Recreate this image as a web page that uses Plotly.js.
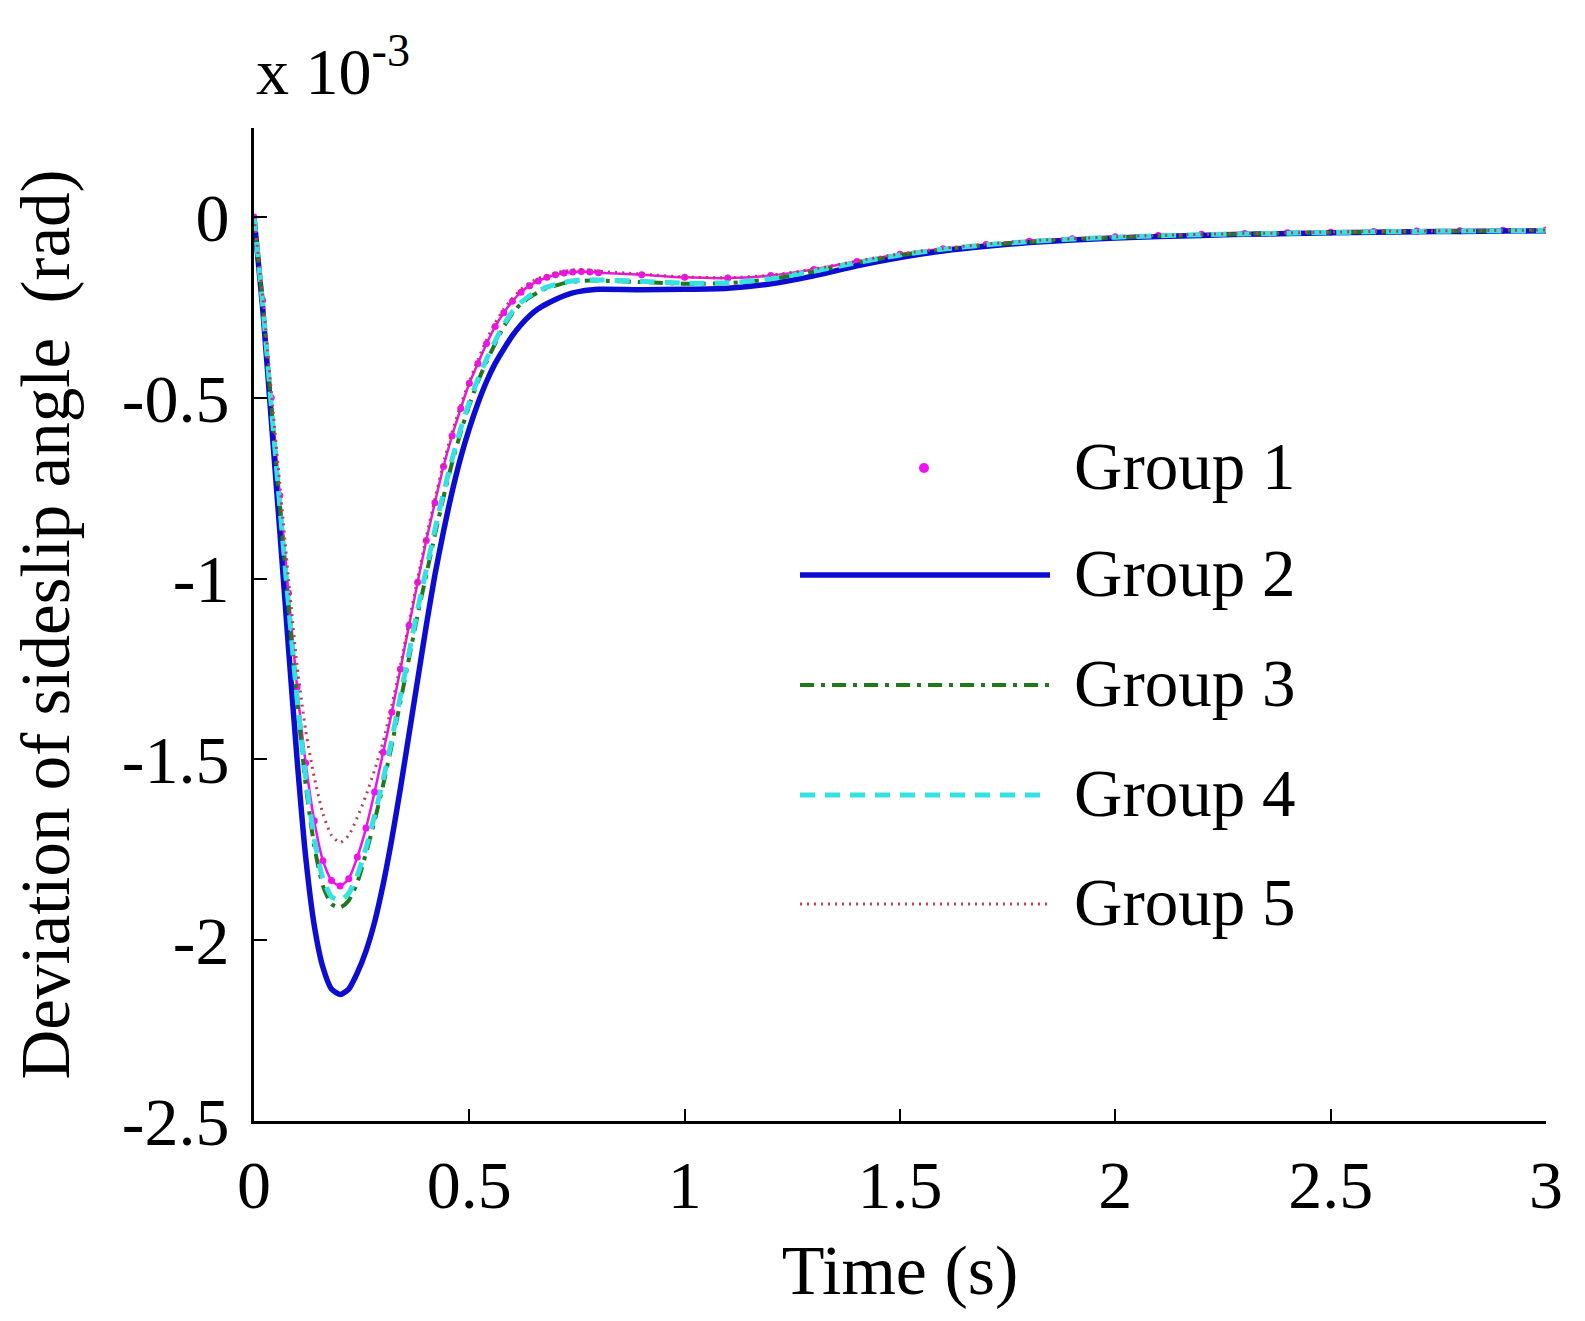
<!DOCTYPE html>
<html>
<head>
<meta charset="utf-8">
<script src="https://cdn.plot.ly/plotly-3.0.1.min.js"></script>
<style>
  body { margin: 0; background: #fff; }
</style>
</head>
<body>
<div id="chart" style="width:1585px;height:1321px"></div>
<script>
// time (s) and sideslip deviation (x 1e-3 rad)
const time = [0, 0.02, 0.04, 0.06, 0.08, 0.10, 0.12, 0.14, 0.16, 0.18, 0.20, 0.22, 0.24, 0.26, 0.28, 0.30,
  0.32, 0.34, 0.36, 0.38, 0.40, 0.42, 0.44, 0.46, 0.48, 0.50, 0.52, 0.54, 0.56, 0.58, 0.60, 0.62, 0.64,
  0.66, 0.68, 0.70, 0.72, 0.74, 0.76, 0.78, 0.80,
  0.9, 1.0, 1.1, 1.2, 1.3, 1.4, 1.5, 1.6, 1.7, 1.8, 1.9, 2.0, 2.1, 2.2, 2.3, 2.4, 2.5, 2.6, 2.7, 2.8, 2.9, 3.0];

const group1 = [0, -0.23, -0.50, -0.77, -1.04, -1.30, -1.51, -1.67, -1.78, -1.835, -1.85, -1.83, -1.77, -1.69, -1.59, -1.48,
  -1.37, -1.25, -1.13, -1.01, -0.895, -0.79, -0.69, -0.605, -0.53, -0.46, -0.405, -0.35, -0.303, -0.265, -0.233, -0.208, -0.19,
  -0.177, -0.167, -0.16, -0.155, -0.152, -0.151, -0.152, -0.154,
  -0.16, -0.167, -0.169, -0.162, -0.145, -0.123, -0.103, -0.088, -0.076, -0.067, -0.06, -0.055, -0.051, -0.048, -0.046, -0.044, -0.042, -0.04, -0.039, -0.038, -0.037, -0.036];

const group2 = [0, -0.25, -0.56, -0.87, -1.19, -1.50, -1.77, -1.96, -2.075, -2.135, -2.15, -2.135, -2.09, -2.03, -1.95, -1.845,
  -1.72, -1.58, -1.43, -1.28, -1.13, -0.99, -0.87, -0.76, -0.665, -0.585, -0.515, -0.455, -0.405, -0.365, -0.328, -0.298, -0.273,
  -0.254, -0.24, -0.228, -0.218, -0.21, -0.205, -0.202, -0.20,
  -0.201, -0.2, -0.197, -0.185, -0.163, -0.135, -0.112, -0.094, -0.081, -0.071, -0.064, -0.058, -0.054, -0.051, -0.048, -0.046, -0.044, -0.042, -0.041, -0.04, -0.039, -0.038];

const group3 = [0, -0.24, -0.52, -0.80, -1.08, -1.34, -1.57, -1.74, -1.85, -1.90, -1.91, -1.89, -1.84, -1.76, -1.67, -1.57,
  -1.46, -1.34, -1.22, -1.10, -0.99, -0.88, -0.775, -0.68, -0.595, -0.52, -0.455, -0.40, -0.35, -0.303, -0.267, -0.24, -0.222,
  -0.208, -0.197, -0.19, -0.183, -0.179, -0.177, -0.176, -0.176,
  -0.18, -0.185, -0.183, -0.172, -0.151, -0.127, -0.106, -0.09, -0.078, -0.069, -0.062, -0.057, -0.053, -0.05, -0.047, -0.045, -0.043, -0.041, -0.04, -0.039, -0.038, -0.037];

const group4 = [0, -0.24, -0.52, -0.80, -1.07, -1.33, -1.55, -1.72, -1.83, -1.88, -1.89, -1.87, -1.82, -1.745, -1.655, -1.555,
  -1.445, -1.325, -1.205, -1.085, -0.975, -0.865, -0.763, -0.67, -0.585, -0.512, -0.448, -0.393, -0.343, -0.297, -0.262, -0.236, -0.218,
  -0.204, -0.194, -0.187, -0.181, -0.177, -0.175, -0.174, -0.174,
  -0.178, -0.183, -0.182, -0.171, -0.15, -0.126, -0.105, -0.089, -0.077, -0.068, -0.061, -0.056, -0.052, -0.049, -0.047, -0.045, -0.043, -0.041, -0.04, -0.039, -0.038, -0.037];

const group5 = [0, -0.22, -0.48, -0.74, -1.0, -1.24, -1.42, -1.55, -1.65, -1.71, -1.73, -1.71, -1.66, -1.60, -1.53, -1.45,
  -1.35, -1.24, -1.12, -1.0, -0.885, -0.78, -0.68, -0.595, -0.52, -0.455, -0.395, -0.34, -0.293, -0.255, -0.225, -0.20, -0.182,
  -0.17, -0.163, -0.155, -0.15, -0.147, -0.146, -0.147, -0.15,
  -0.158, -0.166, -0.168, -0.161, -0.144, -0.122, -0.102, -0.087, -0.075, -0.066, -0.06, -0.055, -0.051, -0.048, -0.046, -0.044, -0.042, -0.04, -0.039, -0.038, -0.037, -0.036];

const groupNames = ['Group 1', 'Group 2', 'Group 3', 'Group 4', 'Group 5'];
const xTicks = [0, 0.5, 1, 1.5, 2, 2.5, 3];
const xTickText = ['0', '0.5', '1', '1.5', '2', '2.5', '3'];
const yTicks = [0, -0.5, -1, -1.5, -2, -2.5];
const yTickText = ['0', '-0.5', '-1', '-1.5', '-2', '-2.5'];

const FONT = 'Liberation Serif, Times New Roman, serif';
const series = [group1, group2, group3, group4, group5];
const looks = [
  { color: '#f010f0', width: 2.5, dash: 'solid', markers: true },
  { color: '#0c0cd2', width: 5.5, dash: 'solid' },
  { color: '#1f7a1f', width: 4, dash: '14px,7px,4px,7px' },
  { color: '#35e2e2', width: 5, dash: '15px,10px' },
  { color: '#b8404f', width: 3, dash: '2px,5px' }
];

const traces = series.map((vals, i) => ({
  x: time,
  y: vals,
  name: groupNames[i],
  type: 'scatter',
  mode: looks[i].markers ? 'lines+markers' : 'lines',
  line: { color: looks[i].color, width: looks[i].width, dash: looks[i].dash, shape: 'spline', smoothing: 0.6 },
  marker: { color: looks[i].color, size: 7 },
  showlegend: false,
  hoverinfo: 'x+y+name'
}))

// plot area in page pixels, used to place the hand-made legend
const plotL = 254, plotR = 1546, plotT = 128, plotB = 1121;
const px2x = p => (p - plotL) / (plotR - plotL);
const px2y = p => (plotB - p) / (plotB - plotT);
const legendRows = [468, 575, 685, 795, 904];

const shapes = [];
const annotations = [];
groupNames.forEach((name, i) => {
  const yy = px2y(legendRows[i]);
  if (looks[i].markers) {
    shapes.push({
      type: 'circle', xref: 'paper', yref: 'paper', xsizemode: 'pixel', ysizemode: 'pixel',
      xanchor: px2x(924), yanchor: yy, x0: -5, x1: 5, y0: -5, y1: 5,
      fillcolor: looks[i].color, line: { width: 0 }
    });
  } else {
    shapes.push({
      type: 'line', xref: 'paper', yref: 'paper',
      x0: px2x(800), x1: px2x(1050), y0: yy, y1: yy,
      line: { color: looks[i].color, width: looks[i].width, dash: looks[i].dash }
    });
  }
  annotations.push({
    xref: 'paper', yref: 'paper', x: px2x(1072), y: yy, xanchor: 'left', yanchor: 'middle',
    text: name, showarrow: false, font: { family: FONT, size: 67, color: '#000' }, yshift: 2
  });
});

annotations.push({
  xref: 'paper', yref: 'paper', x: 0, y: 1, xanchor: 'left', yanchor: 'bottom',
  text: 'x 10<sup>-3</sup>', showarrow: false, xshift: 0, yshift: 18,
  font: { family: FONT, size: 66, color: '#000' }
});

const layout = {
  width: 1585,
  height: 1321,
  paper_bgcolor: '#fff',
  plot_bgcolor: '#fff',
  margin: { l: plotL, r: 1585 - plotR, t: plotT, b: 1321 - plotB },
  font: { family: FONT, size: 66, color: '#000' },
  showlegend: false,
  xaxis: {
    range: [0, 3],
    tickvals: xTicks,
    ticktext: xTickText,
    ticks: 'inside',
    ticklen: 12,
    tickwidth: 2,
    tickcolor: '#000',
    showline: true,
    linecolor: '#000',
    linewidth: 3,
    showgrid: false,
    zeroline: false,
    ticklabelstandoff: 2,
    tickfont: { family: FONT, size: 68, color: '#000' },
    title: { text: 'Time (s)', font: { family: FONT, size: 70, color: '#000' }, standoff: 24 }
  },
  yaxis: {
    range: [-2.5, 0.246],
    tickvals: yTicks,
    ticktext: yTickText,
    ticks: 'inside',
    ticklen: 13,
    tickwidth: 2,
    tickcolor: '#000',
    showline: true,
    linecolor: '#000',
    linewidth: 3,
    showgrid: false,
    zeroline: false,
    ticklabelstandoff: 8,
    tickfont: { family: FONT, size: 68, color: '#000' },
    title: { text: 'Deviation of sideslip angle&nbsp; (rad)', font: { family: FONT, size: 69, color: '#000' }, standoff: 30 }
  },
  shapes: shapes,
  annotations: annotations
};

Plotly.newPlot('chart', traces, layout, { displayModeBar: false });
</script>
</body>
</html>
